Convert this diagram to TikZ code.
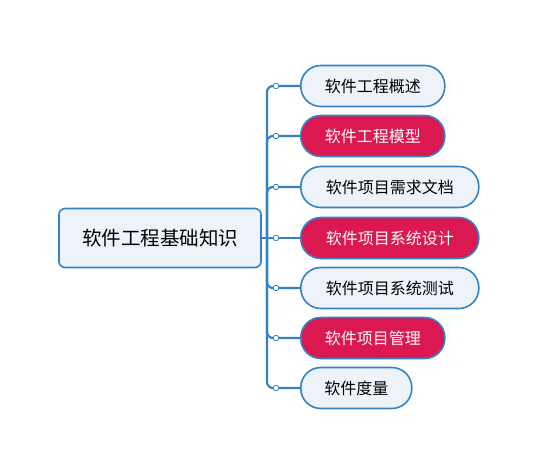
\documentclass[tikz,border=0pt]{standalone}
\usepackage{fontspec}
\newfontfamily\cjk{Noto Sans CJK SC}
\definecolor{lineblue}{RGB}{52,130,196}
\definecolor{boxfill}{RGB}{238,243,249}
\definecolor{hotred}{RGB}{220,24,80}
\tikzset{
  topic/.style={draw=lineblue, line width=1.6pt, fill=boxfill, rounded corners=20pt, minimum height=41pt, inner xsep=0pt, font=\cjk\fontsize{16}{19}\selectfont, text=black},
  hot/.style={topic, fill=hotred, text=white},
  rootbox/.style={draw=lineblue, line width=1.6pt, fill=boxfill, rounded corners=6pt, minimum width=202pt, minimum height=59pt, font=\cjk\fontsize{19.5}{23}\selectfont, text=black},
  conn/.style={draw=lineblue, line width=2.2pt, rounded corners=6pt},
  knob/.style={circle, draw=lineblue, fill=white, line width=0.8pt, inner sep=0pt, minimum size=5.5pt},
}
\begin{document}
\begin{tikzpicture}[x=1pt,y=-1pt]
\useasboundingbox (0,0) rectangle (552,471);
\node[rootbox] (root) at (160,238) {软件工程基础知识};
\node[topic, minimum width=144pt, anchor=west] (c1) at (300,86) {软件工程概述};
\node[hot, minimum width=144pt, anchor=west] (c2) at (300,136) {软件工程模型};
\node[topic, minimum width=178pt, anchor=west] (c3) at (300,187) {软件项目需求文档};
\node[hot, minimum width=178pt, anchor=west] (c4) at (300,238) {软件项目系统设计};
\node[topic, minimum width=178pt, anchor=west] (c5) at (300,288) {软件项目系统测试};
\node[hot, minimum width=144pt, anchor=west] (c6) at (300,338) {软件项目管理};
\node[topic, minimum width=111pt, anchor=west] (c7) at (300,388) {软件度量};
\coordinate (j) at (267,238);
\foreach \c in {c1,c2,c3,c5,c6,c7} {
  \draw[conn] (j) |- (\c.west);
}
\draw[conn] (root.east) -- (c4.west);
\foreach \c/\y in {c1/86,c2/136,c3/187,c4/238,c5/288,c6/338,c7/388} {
  \node[knob] (k\c) at (276,\y) {};
}
\end{tikzpicture}
\end{document}
